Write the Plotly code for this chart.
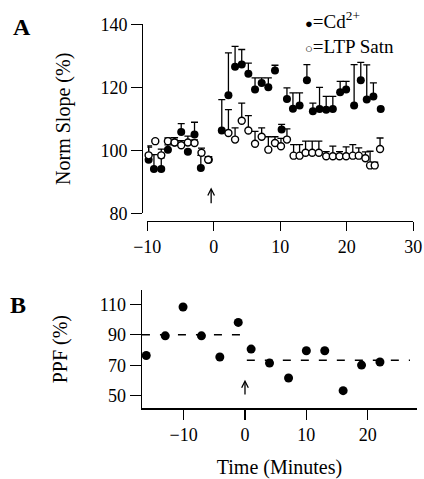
import plotly.graph_objects as go

# ---------------- Panel A data ----------------
cd_time = [-9.8, -9.0, -7.9, -6.9, -5.9, -4.9, -3.9, -2.9, -1.95, -0.75,
           1.2, 2.2, 3.2, 4.2, 5.2, 6.2, 7.2, 8.2, 9.2, 10.2,
           11.0, 11.9, 12.9, 14.0, 14.9, 15.9, 16.9, 17.9, 19.0, 19.9,
           21.1, 22.1, 23.0, 24.0, 25.1]
cd_slope = [97.0, 94.1, 94.1, 100.2, 102.5, 105.8, 99.5, 105.0, 94.4, 97.0,
            106.3, 117.5, 126.5, 127.2, 124.3, 119.3, 121.4, 120.0, 125.3, 106.6,
            116.3, 113.2, 114.2, 122.2, 112.4, 113.1, 112.9, 113.1, 118.4, 119.3,
            114.2, 122.2, 116.1, 117.1, 113.1]
cd_err = [4.0, 4.5, 3.5, 1.5, 1.5, 2.7, 0.5, 3.9, 4.0, 1.0,
          9.8, 13.4, 6.5, 4.8, 3.4, 3.7, 1.6, 3.0, 1.7, 1.6,
          3.5, 5.0, 4.0, 5.0, 2.6, 6.9, 4.2, 4.0, 3.5, 2.6,
          13.0, 5.7, 11.0, 4.3, 0.0]

satn_time = [-9.8, -8.8, -7.9, -6.9, -5.9, -4.9, -3.9, -2.9, -1.85, -0.85,
             2.2, 3.2, 4.2, 5.2, 6.2, 7.2, 8.2, 9.2, 10.1, 11.0,
             12.0, 12.9, 13.8, 14.8, 15.8, 16.9, 17.9, 18.9, 19.9, 20.9,
             21.8, 22.8, 23.5, 24.2, 25.0]
satn_slope = [98.4, 102.9, 98.4, 102.9, 102.5, 101.6, 102.5, 102.3, 99.2, 97.0,
              105.5, 103.4, 109.4, 106.3, 102.1, 104.3, 100.2, 102.3, 101.3, 103.4,
              98.3, 98.3, 99.2, 99.2, 99.2, 98.1, 98.1, 98.1, 98.1, 98.3,
              98.3, 97.5, 95.2, 95.2, 100.4]
satn_err = [3.0, 0.5, 2.0, 1.0, 1.5, 1.5, 2.0, 1.0, 1.5, 1.0,
            7.4, 3.7, 5.6, 4.7, 3.9, 2.8, 4.1, 2.0, 2.5, 3.4,
            3.5, 3.5, 3.7, 3.7, 3.7, 1.5, 3.2, 1.5, 3.0, 3.5,
            2.5, 2.0, 4.5, 1.0, 3.5]

a_xticks = [-10, 0, 10, 20, 30]
a_xticktext = ["\u221210", "0", "10", "20", "30"]
a_yticks = [80, 100, 120, 140]
a_arrow = dict(x=-0.4, y_tail=82.7, y_head=88.2)

# ---------------- Panel B data ----------------
ppf_time = [-16.1, -13.0, -10.1, -7.1, -4.1, -1.1, 1.0, 4.0, 7.1, 10.0, 13.0, 16.0, 19.0, 22.0]
ppf_val = [76.4, 89.3, 108.2, 89.3, 75.4, 98.1, 80.6, 71.4, 61.6, 79.5, 79.5, 53.3, 70.1, 72.1]
ppf_pre_span = [-16.8, 0.0]
ppf_pre_mean = 90.0
ppf_post_span = [0.3, 26.9]
ppf_post_mean = 73.2

b_xticks = [-10, 0, 10, 20]
b_xticktext = ["\u221210", "0", "10", "20"]
b_yticks = [50, 70, 90, 110]
b_arrow = dict(x=0.0, y_tail=49.8, y_head=60.5)

FONT = "Liberation Serif"
W, H = 424, 479


def fx(px):
    return px / W


def fy(py):
    return 1 - py / H


fig = go.Figure()

fig.add_trace(go.Scatter(
    x=cd_time, y=cd_slope, mode="markers", xaxis="x", yaxis="y",
    marker=dict(symbol="circle", size=8, color="black"),
    error_y=dict(type="data", symmetric=False, array=cd_err,
                 arrayminus=[0] * len(cd_err), width=3.5, thickness=1.3, color="black"),
    cliponaxis=False, showlegend=False, name="Cd2+"))

fig.add_trace(go.Scatter(
    x=satn_time, y=satn_slope, mode="markers", xaxis="x", yaxis="y",
    marker=dict(symbol="circle", size=7, color="white", line=dict(color="black", width=1.4)),
    error_y=dict(type="data", symmetric=False, array=satn_err,
                 arrayminus=[0] * len(satn_err), width=3.5, thickness=1.3, color="black"),
    cliponaxis=False, showlegend=False, name="LTP Satn"))

fig.add_trace(go.Scatter(
    x=ppf_pre_span, y=[ppf_pre_mean] * 2, mode="lines", xaxis="x2", yaxis="y2",
    line=dict(color="black", width=1.5, dash="8px,10px"), showlegend=False))
fig.add_trace(go.Scatter(
    x=ppf_post_span, y=[ppf_post_mean] * 2, mode="lines", xaxis="x2", yaxis="y2",
    line=dict(color="black", width=1.5, dash="8px,10px"), showlegend=False))
fig.add_trace(go.Scatter(
    x=ppf_time, y=ppf_val, mode="markers", xaxis="x2", yaxis="y2",
    marker=dict(symbol="circle", size=9, color="black"),
    cliponaxis=False, showlegend=False, name="PPF"))

axis_common = dict(showgrid=False, zeroline=False, showline=True, linecolor="black",
                   linewidth=1.3, ticks="outside", tickcolor="black", tickwidth=1.3,
                   automargin=False,
                   tickfont=dict(family=FONT, size=18, color="black"))

fig.update_layout(
    width=W, height=H, margin=dict(l=0, r=0, t=0, b=0, pad=0, autoexpand=False),
    paper_bgcolor="white", plot_bgcolor="white", hovermode=False,
    font=dict(family=FONT, color="black"),
    xaxis=dict(domain=[fx(147.3), fx(413.3)], range=[-10, 30], anchor="free",
               position=fy(220.7), tickvals=a_xticks, ticktext=a_xticktext,
               ticklen=9, **axis_common),
    yaxis=dict(domain=[fy(213.3), fy(24.3)], range=[80, 140], anchor="free",
               position=fx(142), tickvals=a_yticks, ticklen=11,
               title=dict(text="Norm Slope (%)", font=dict(family=FONT, size=20), standoff=23),
               **axis_common),
    xaxis2=dict(domain=[fx(142), fx(417)], range=[-16.79, 28.04], anchor="y2",
                tickvals=b_xticks, ticktext=b_xticktext, ticklen=10,
                title=dict(text="Time (Minutes)", font=dict(family=FONT, size=20), standoff=18),
                **axis_common),
    yaxis2=dict(domain=[fy(408.3), fy(290)], range=[41.7, 119.4], anchor="x2",
                tickvals=b_yticks, ticklen=11,
                title=dict(text="PPF (%)", font=dict(family=FONT, size=20), standoff=26),
                **axis_common),
)

annos = [
    dict(text="<b>A</b>", x=fx(21.5), y=fy(27.5), xref="paper", yref="paper",
         xanchor="center", yanchor="middle", showarrow=False,
         font=dict(family=FONT, size=24, color="black")),
    dict(text="<b>B</b>", x=fx(18), y=fy(305), xref="paper", yref="paper",
         xanchor="center", yanchor="middle", showarrow=False,
         font=dict(family=FONT, size=24, color="black")),
    dict(text="<span style='font-size:13px'>\u25cf</span>=Cd<sup>2+</sup>",
         x=fx(303), y=fy(20), xref="paper", yref="paper", xanchor="left", yanchor="middle",
         showarrow=False, font=dict(family=FONT, size=19, color="black")),
    dict(text="<span style='font-size:13px'>\u25cb</span>=LTP Satn",
         x=fx(303), y=fy(46), xref="paper", yref="paper", xanchor="left", yanchor="middle",
         showarrow=False, font=dict(family=FONT, size=19, color="black")),
    dict(text="", x=a_arrow["x"], y=a_arrow["y_head"], ax=a_arrow["x"], ay=a_arrow["y_tail"],
         xref="x", yref="y", axref="x", ayref="y", showarrow=True,
         arrowhead=5, arrowsize=1, arrowwidth=1.3, arrowcolor="black"),
    dict(text="", x=b_arrow["x"], y=b_arrow["y_head"], ax=b_arrow["x"], ay=b_arrow["y_tail"],
         xref="x2", yref="y2", axref="x2", ayref="y2", showarrow=True,
         arrowhead=5, arrowsize=1, arrowwidth=1.3, arrowcolor="black"),
]
fig.update_layout(annotations=annos)

fig.write_html("out.html",
               config={"displayModeBar": False, "staticPlot": True},
               post_script="document.body.style.margin='0';document.body.style.overflow='hidden';")
